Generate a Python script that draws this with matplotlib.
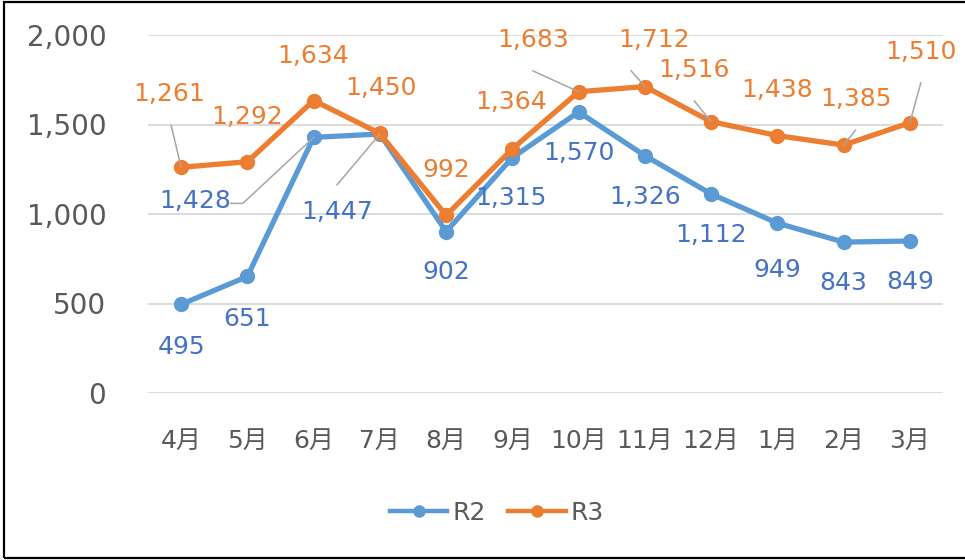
import matplotlib.pyplot as plt
from matplotlib.patches import Rectangle
from matplotlib.lines import Line2D

plt.rcParams['font.family'] = ['DejaVu Sans', 'Noto Sans CJK JP']

months = ["4月", "5月", "6月", "7月", "8月", "9月", "10月", "11月", "12月", "1月", "2月", "3月"]
r2 = [495, 651, 1428, 1447, 902, 1315, 1570, 1326, 1112, 949, 843, 849]
r3 = [1261, 1292, 1634, 1450, 992, 1364, 1683, 1712, 1516, 1438, 1385, 1510]

# label offsets in pixels (dx, dy) from the point
r2_off = [(0, -43), (0, -43), (-118, -64), (-43, -78), (0, -40), (-1, -40),
          (0, -41), (0, -41), (0, -41), (0, -47), (0, -41), (0, -41)]
r3_off = [(-12, 73), (0, 45), (0, 45), (1, 45), (0, 45), (-1, 47),
          (-45, 52), (9, 47), (-17, 52), (0, 46), (12, 46), (11, 71)]
# leader line start (pixels from the point), None = no leader
r2_lead = [None, None, (-83, -66), (-43, -51), None, None,
           None, None, None, None, None, None]
r3_lead = [(-10, 42), None, None, None, None, None,
           (-46, 21), (-14, 16), (-17, 21), None, (12, 15), (11, 40)]

BLUE = "#5B9BD5"
ORANGE = "#ED7D31"
BLUE_TXT = "#4472C4"
GRAY = "#595959"
LEADER = "#A6A6A6"

fig = plt.figure(figsize=(9.65, 5.6), dpi=100)
ax = fig.add_axes([148 / 965, 1 - 393 / 560, (943 - 148) / 965, (393 - 35) / 560])

x = list(range(len(months)))
ax.plot(x, r2, color=BLUE, lw=3.8, marker="o", ms=10, zorder=3, label="R2")
ax.plot(x, r3, color=ORANGE, lw=3.8, marker="o", ms=10, zorder=4, label="R3")

ax.set_xlim(-0.5, len(months) - 0.5)
ax.set_ylim(0, 2000)
ax.set_yticks([0, 500, 1000, 1500, 2000])
ax.set_yticklabels([f"{v:,}" for v in [0, 500, 1000, 1500, 2000]])
ax.set_xticks(x)
ax.set_xticklabels(months)
ax.tick_params(axis="y", length=0, pad=30, labelsize=20, labelcolor=GRAY)
ax.tick_params(axis="x", length=0, pad=26, labelsize=18, labelcolor=GRAY)
ax.grid(axis="y", color="#D9D9D9", lw=1.3)
ax.set_axisbelow(True)
for s in ax.spines.values():
    s.set_visible(False)

px = 72 / 100


def label_series(vals, offs, leads, color):
    for i, v in enumerate(vals):
        dx, dy = offs[i]
        ax.annotate(f"{v:,}", (i, v), xytext=(dx * px, dy * px), textcoords="offset points",
                    ha="center", va="center", fontsize=18, color=color, zorder=5)
        if leads[i] is not None:
            lx, ly = leads[i]
            # elbow for leaders that start level with the label
            conn = "angle,angleA=0,angleB=43,rad=0" if lx < -60 else "arc3"
            ax.annotate("", (i, v), xytext=(lx * px, ly * px), textcoords="offset points",
                        arrowprops=dict(arrowstyle="-", color=LEADER, lw=1.1,
                                        shrinkA=0, shrinkB=0, connectionstyle=conn),
                        zorder=5)


label_series(r2, r2_off, r2_lead, BLUE_TXT)
label_series(r3, r3_off, r3_lead, ORANGE)

handles = [Line2D([], [], color=BLUE, lw=3.2, marker="o", ms=8),
           Line2D([], [], color=ORANGE, lw=3.2, marker="o", ms=8)]
fig.legend(handles, ["R2", "R3"], loc="center", bbox_to_anchor=(497 / 965, 1 - 513 / 560),
           ncol=2, frameon=False, fontsize=18, handlelength=2.3, handletextpad=0.2,
           columnspacing=0.9, labelcolor=GRAY)

fig.patches.append(Rectangle((4 / 965, 2 / 560), 1.2, 1 - 4 / 560, transform=fig.transFigure,
                             fill=False, edgecolor="black", lw=1.6))

fig.savefig("out.png", dpi=100)
